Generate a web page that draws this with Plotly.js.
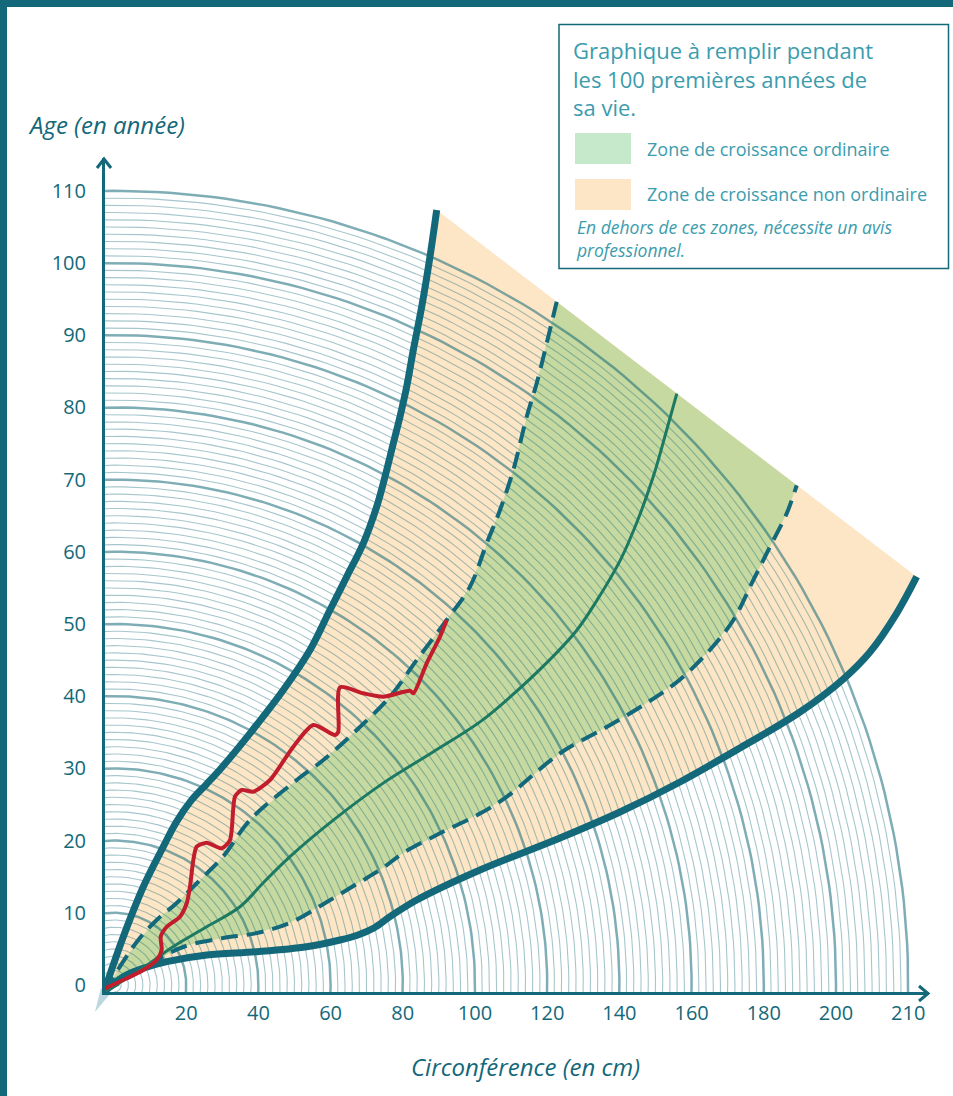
<!DOCTYPE html>
<html><head><meta charset="utf-8">
<script src="https://cdn.plot.ly/plotly-3.0.1.min.js"></script>
<style>
html,body{margin:0;padding:0;background:#fff;}
#wrap{position:relative;width:953px;height:1096px;overflow:hidden;background:#fff;}
#chart{position:absolute;left:0;top:0;width:953px;height:1096px;}
.bar{position:absolute;background:#13687a;}
</style></head><body>
<div id="wrap"><div id="chart"></div>
<div class="bar" style="left:0;top:0;width:953px;height:7px"></div>
<div class="bar" style="left:0;top:0;width:7px;height:1096px"></div>
</div>
<script>
// ---------- data (circumference in cm, age in years) ----------
const upperBoundX = [-2.77,2.58,8.12,13.66,17.30,21.30,25.60,29.80,37.67,46.90,54.29,59.83,64.46,69.06,72.77,75.07,77.37,79.22,81.08,82.91,85.24,87.53,89.39];
const upperBoundY = [-0.97,6.69,13.61,19.16,22.60,25.50,27.80,30.10,34.86,40.86,46.40,51.94,56.55,61.18,66.25,70.40,75.03,78.71,82.87,87.95,93.95,100.87,107.34];

const upperDashX = [-2.77,6.29,11.83,17.37,23.82,30.19,37.67,50.61,57.98,67.23,76.45,83.85,92.16,98.61,103.24,106.93,110.61,114.32,117.09,120.30,122.63];
const upperDashY = [-0.97,5.96,9.00,11.36,14.54,17.77,22.85,28.39,31.16,35.32,39.93,45.01,50.55,55.17,61.18,65.79,71.33,78.71,83.34,89.79,94.64];

const medianX = [-2.77,7.20,16.34,25.68,34.90,41.55,48.75,60.75,74.57,88.48,101.39,109.67,119.83,128.20,133.77,140.22,144.74,149.39,153.10,155.90];
const medianY = [-0.97,2.08,5.30,8.07,10.84,14.27,17.78,22.83,27.96,32.30,36.44,39.86,44.61,49.14,53.27,58.82,63.96,70.42,76.87,81.91];

const lowerDashX = [-2.77,10.83,15.49,21.02,30.19,39.58,48.75,58.73,67.81,74.38,80.11,90.30,101.39,108.75,123.57,136.48,147.56,156.73,165.12,171.58,177.12,181.75,186.40,189.11];
const lowerDashY = [-0.97,3.06,4.47,5.58,6.50,7.20,8.61,11.43,14.16,16.18,18.28,21.01,23.74,26.05,32.10,35.73,39.06,42.29,46.43,50.55,56.11,60.73,65.37,69.21];

const lowerBoundX = [-2.77,2.58,8.12,14.60,25.68,39.53,53.38,62.60,67.40,72.00,76.45,83.85,101.39,123.55,140.17,156.79,173.41,190.03,202.02,209.42,216.81,222.35];
const lowerBoundY = [-0.97,1.15,2.31,3.23,4.16,4.61,5.30,6.23,6.90,7.90,9.46,11.77,15.93,20.36,23.96,28.12,32.83,37.81,42.38,46.12,51.48,56.55];

const treeX = [-2.6,2.58,8.12,11.83,13.21,12.94,14.60,18.28,20.14,21.05,21.97,22.91,25.68,29.83,32.13,33.52,35.37,38.59,43.21,49.67,55.21,61.22,62.13,62.60,69.06,74.60,82.00,82.91,86.62,90.30,92.16];
const treeY = [-0.5,0.69,2.08,3.46,4.85,6.69,8.07,9.46,11.32,13.61,17.31,19.16,19.71,18.93,20.08,26.08,27.01,26.77,28.39,33.01,36.01,34.63,35.08,41.23,40.40,39.93,40.76,40.40,44.56,48.24,50.55];

const xTickVals = [20,40,60,80,100,120,140,160,180,200,220];
const xTickText = ['20','40','60','80','100','120','140','160','180','200','210'];
const yTickVals = [0,10,20,30,40,50,60,70,80,90,100,110];
const yTickText = ['0','10','20','30','40','50','60','70','80','90','100','110'];

const arcYears = []; for (let r = 1; r <= 110; r++) arcYears.push(r);

const titleLines = ['Graphique à remplir pendant', 'les 100 premières années de', 'sa vie.'];
const legendLabels = ['Zone de croissance ordinaire', 'Zone de croissance non ordinaire'];
const noteLines = ['En dehors de ces zones, nécessite un avis', 'professionnel.'];
const yTitle = 'Age (en année)';
const xTitle = 'Circonférence (en cm)';

// ---------- geometry (pixel layout) ----------
const CX = 114, CY = 985, SX = 3.61, SY = 7.22;   // grid centre and px per unit
const L = 105, R = 24, T = 158, B = 104;
const W = 953 - L - R, H = 1096 - T - B;
const xr = [(L - CX) / SX, (L + W - CX) / SX];
const yr = [(CY - (T + H)) / SY, (CY - T) / SY];
const px = v => (v - L) / W;
const py = v => (T + H - v) / H;

const TEAL = '#13687a', TXT = '#3c9cad', FONT = 'Open Sans, Lato, sans-serif';

function arcs(radii) {
  const xs = [], ys = [];
  radii.forEach(r => {
    for (let d = -90; d <= 180; d += 1) {
      const t = d * Math.PI / 180;
      xs.push(2 * r * Math.cos(t)); ys.push(r * Math.sin(t));
    }
    xs.push(null); ys.push(null);
  });
  return {xs, ys};
}
const thin = arcs(arcYears.filter(r => r % 10 !== 0));
const thick = arcs(arcYears.filter(r => r % 10 === 0));

const rev = a => a.slice().reverse();
const base = {mode: 'lines', hoverinfo: 'skip', showlegend: false};
const smooth = {shape: 'spline', smoothing: 1.0};

const traces = [
  Object.assign({}, base, {x: upperBoundX.concat(rev(lowerBoundX)), y: upperBoundY.concat(rev(lowerBoundY)),
    fill: 'toself', fillcolor: '#fde6c6', line: {width: 0, color: 'rgba(0,0,0,0)'}}),
  Object.assign({}, base, {x: upperDashX.concat(rev(lowerDashX)), y: upperDashY.concat(rev(lowerDashY)),
    fill: 'toself', fillcolor: '#c5d9a1', line: {width: 0, color: 'rgba(0,0,0,0)'}}),
  Object.assign({}, base, {x: thin.xs, y: thin.ys, line: {width: 1.1, color: 'rgba(20,105,120,0.38)'}}),
  Object.assign({}, base, {x: thick.xs, y: thick.ys, line: {width: 2.5, color: 'rgba(20,105,120,0.55)'}}),
  Object.assign({}, base, {x: lowerBoundX, y: lowerBoundY, line: Object.assign({width: 7, color: TEAL}, smooth)}),
  Object.assign({}, base, {x: upperBoundX, y: upperBoundY, line: Object.assign({width: 7, color: TEAL}, smooth)}),
  Object.assign({}, base, {x: upperDashX, y: upperDashY, line: Object.assign({width: 4, color: TEAL, dash: '17px,9px'}, smooth)}),
  Object.assign({}, base, {x: lowerDashX, y: lowerDashY, line: Object.assign({width: 4, color: TEAL, dash: '17px,9px'}, smooth)}),
  Object.assign({}, base, {x: medianX, y: medianY, line: Object.assign({width: 3, color: '#1c7a62'}, smooth)}),
  Object.assign({}, base, {x: treeX, y: treeY, line: {width: 4, color: '#c21d2d', shape: 'spline', smoothing: 0.7}})
];

const pp = (x, y) => `${px(x)},${py(y)}`;
const shapes = [
  {type: 'path', xref: 'paper', yref: 'paper', layer: 'below',
   path: `M ${pp(101, 988)} L ${pp(110, 994)} L ${pp(95, 1012)} Z`, fillcolor: '#bcd8de', line: {width: 0}},
  {type: 'path', xref: 'paper', yref: 'paper', path: `M ${pp(97, 168)} L ${pp(104, 159)} L ${pp(111, 168)}`,
   line: {color: TEAL, width: 3}},
  {type: 'path', xref: 'paper', yref: 'paper', path: `M ${pp(919, 986)} L ${pp(928, 993.5)} L ${pp(919, 1001)}`,
   line: {color: TEAL, width: 3}},
  {type: 'rect', xref: 'paper', yref: 'paper', x0: px(559), x1: px(948.5), y0: py(268.5), y1: py(24.5),
   line: {color: TEAL, width: 1.5}, fillcolor: '#ffffff'},
  {type: 'rect', xref: 'paper', yref: 'paper', x0: px(575), x1: px(631), y0: py(164), y1: py(133),
   line: {width: 0}, fillcolor: '#c6e9cb'},
  {type: 'rect', xref: 'paper', yref: 'paper', x0: px(575), x1: px(631), y0: py(210), y1: py(179),
   line: {width: 0}, fillcolor: '#fde6c5'}
];

const ann = (x, y, text, size, opts) => Object.assign({xref: 'paper', yref: 'paper', x: px(x), y: py(y),
  xanchor: 'left', yanchor: 'middle', align: 'left', showarrow: false, text: text,
  font: {family: FONT, size: size, color: TXT}}, opts || {});
const annotations = [
  ann(26, 124, yTitle, 24, {font: {family: FONT, size: 24, color: TEAL, style: 'italic'}}),
  ann(525, 1066, xTitle, 24, {xanchor: 'center', font: {family: FONT, size: 24, color: TEAL, style: 'italic'}}),
  ann(571, 79, titleLines.join('<br>'), 22),
  ann(645, 149, legendLabels[0], 18),
  ann(645, 194, legendLabels[1], 18),
  ann(574, 239, noteLines.join('<br>'), 17.5, {font: {family: FONT, size: 17.5, color: TXT, style: 'italic'}})
];

const layout = {
  width: 953, height: 1096,
  margin: {l: L, r: R, t: T, b: B, pad: 0},
  paper_bgcolor: 'rgba(0,0,0,0)', plot_bgcolor: 'rgba(0,0,0,0)',
  showlegend: false, hovermode: false,
  xaxis: {range: xr, showgrid: false, zeroline: false, showline: true, linecolor: TEAL, linewidth: 3, ticks: '',
    tickvals: xTickVals, ticktext: xTickText, tickfont: {family: FONT, size: 20, color: TEAL},
    ticklabelstandoff: 1, fixedrange: true},
  yaxis: {range: yr, showgrid: false, zeroline: false, showline: true, linecolor: TEAL, linewidth: 3, ticks: '',
    tickvals: yTickVals, ticktext: yTickText, tickfont: {family: FONT, size: 20, color: TEAL},
    ticklabelstandoff: 12, fixedrange: true},
  shapes: shapes,
  annotations: annotations
};

Plotly.newPlot('chart', traces, layout, {staticPlot: true, displayModeBar: false});
</script></body></html>
